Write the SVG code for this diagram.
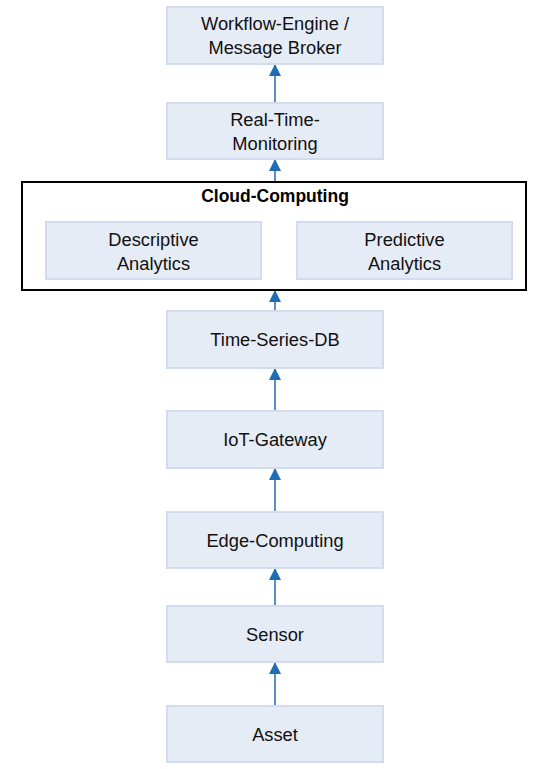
<svg xmlns="http://www.w3.org/2000/svg" width="549" height="769" viewBox="0 0 549 769">
<defs>
<style>
.box{fill:#E6ECF6;stroke:#D2DCEE;stroke-width:2}
.lbl{font-family:"Liberation Sans",Arial,sans-serif;font-size:18.3px;fill:#111;text-anchor:middle}
.title{font-family:"Liberation Sans",Arial,sans-serif;font-size:17.5px;font-weight:bold;fill:#000;text-anchor:middle}
.conn{stroke:#1F6DB5;stroke-width:1.5;fill:none;marker-end:url(#ah)}
</style>
<marker id="ah" markerWidth="12" markerHeight="13" refX="11" refY="6" orient="auto" markerUnits="userSpaceOnUse" viewBox="0 0 12 12">
<path d="M0,0 L12,6 L0,12 Z" fill="#1F6DB5"/>
</marker>
</defs>
<rect width="549" height="769" fill="#fff"/>
<g id="connectors">
<line class="conn" x1="275" y1="103" x2="275" y2="65"/>
<line class="conn" x1="275" y1="182" x2="275" y2="160"/>
<line class="conn" x1="275" y1="311" x2="275" y2="291"/>
<line class="conn" x1="275" y1="411" x2="275" y2="369"/>
<line class="conn" x1="275" y1="512" x2="275" y2="469"/>
<line class="conn" x1="275" y1="606" x2="275" y2="569"/>
<line class="conn" x1="275" y1="706" x2="275" y2="663"/>
</g>
<g id="workflow">
<rect class="box" x="167" y="7" width="216" height="57"/>
<text class="lbl" x="275" y="30">Workflow-Engine /</text>
<text class="lbl" x="275" y="54">Message Broker</text>
</g>
<g id="realtime">
<rect class="box" x="167" y="103" width="216" height="56"/>
<text class="lbl" x="275" y="126">Real-Time-</text>
<text class="lbl" x="275" y="150">Monitoring</text>
</g>
<g id="cloud">
<rect x="22" y="182" width="504" height="108" fill="#fff" stroke="#000" stroke-width="2"/>
<text class="title" x="275" y="202">Cloud-Computing</text>
</g>
<g id="descriptive">
<rect class="box" x="46" y="222" width="215" height="57"/>
<text class="lbl" x="153.5" y="246">Descriptive</text>
<text class="lbl" x="153.5" y="270">Analytics</text>
</g>
<g id="predictive">
<rect class="box" x="297" y="222" width="215" height="57"/>
<text class="lbl" x="404.5" y="246">Predictive</text>
<text class="lbl" x="404.5" y="270">Analytics</text>
</g>
<g id="timeseries">
<rect class="box" x="167" y="311" width="216" height="57"/>
<text class="lbl" x="275" y="346">Time-Series-DB</text>
</g>
<g id="iotgateway">
<rect class="box" x="167" y="411" width="216" height="57"/>
<text class="lbl" x="275" y="446">IoT-Gateway</text>
</g>
<g id="edge">
<rect class="box" x="167" y="512" width="216" height="56"/>
<text class="lbl" x="275" y="547">Edge-Computing</text>
</g>
<g id="sensor">
<rect class="box" x="167" y="606" width="216" height="56"/>
<text class="lbl" x="275" y="641">Sensor</text>
</g>
<g id="asset">
<rect class="box" x="167" y="706" width="216" height="56"/>
<text class="lbl" x="275" y="741">Asset</text>
</g>
</svg>
